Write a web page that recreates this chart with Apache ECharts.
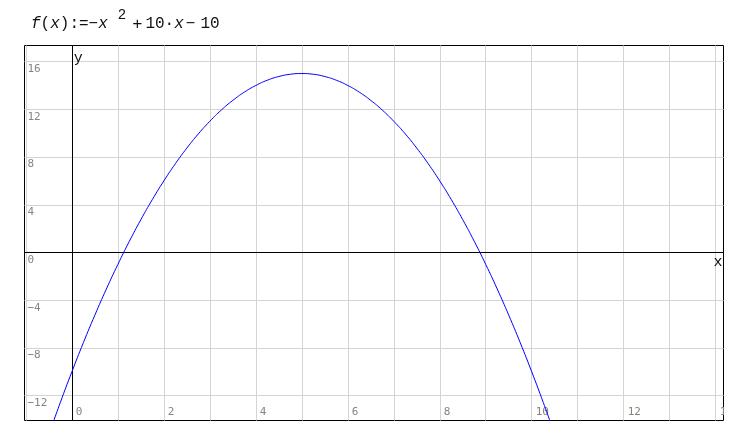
<!DOCTYPE html>
<html>
<head>
<meta charset="utf-8">
<script src="https://cdn.jsdelivr.net/npm/echarts@6/dist/echarts.min.js"></script>
<style>html,body{margin:0;padding:0;background:#fff;}#c{width:737px;height:446px;}</style>
</head>
<body>
<div id="c"></div>
<script>
// Curve samples: f(x) = -x^2 + 10x - 10
const xValues = [-0.5, -0.25, 0, 0.25, 0.5, 0.75, 1, 1.25, 1.5, 1.75, 2, 2.25, 2.5, 2.75, 3, 3.25, 3.5, 3.75, 4, 4.25, 4.5, 4.75, 5,
                 5.25, 5.5, 5.75, 6, 6.25, 6.5, 6.75, 7, 7.25, 7.5, 7.75, 8, 8.25, 8.5, 8.75, 9, 9.25, 9.5, 9.75, 10, 10.25, 10.5];
const yValues = [-15.25, -12.56, -10, -7.56, -5.25, -3.06, -1, 0.94, 2.75, 4.44, 6, 7.44, 8.75, 9.94, 11, 11.94, 12.75, 13.44, 14, 14.44, 14.75, 14.94, 15,
                 14.94, 14.75, 14.44, 14, 13.44, 12.75, 11.94, 11, 9.94, 8.75, 7.44, 6, 4.44, 2.75, 0.94, -1, -3.06, -5.25, -7.56, -10, -12.56, -15.25];
// Axis ranges and ticks
const xRange = [-1.03, 14.17];
const yRange = [-14.08, 17.35];
const xGridTicks = [-1, 0, 1, 2, 3, 4, 5, 6, 7, 8, 9, 10, 11, 12, 13, 14];
const xTickLabels = [0, 2, 4, 6, 8, 10, 12, 14];
const yGridTicks = [-12, -8, -4, 0, 4, 8, 12, 16];
const yTickLabels = [-12, -8, -4, 0, 4, 8, 12, 16];

const points = xValues.map((x, i) => [x, yValues[i]]);
const fmt = v => String(v).replace('-', '\u2212');
const labelFont = 'DejaVu Sans Mono';
const labelColor = '#8a847c';
const tf = 'Liberation Mono';
const tc = '#111';

const chart = echarts.init(document.getElementById('c'), null, {renderer: 'canvas'});
chart.setOption({
  animation: false,
  backgroundColor: '#fff',
  title: {
    left: 26, top: 3,
    text: '{f|f}{n|(}{f|x}{n|):=\u2212}{f|x}{s|2}{op|+}{n|10\u00b7}{f|x}{op2|\u2212}{n2|10}',
    textStyle: {
      fontWeight: 'normal',
      rich: {
        n: {fontFamily: tf, fontSize: 16, fontWeight: 'normal', color: tc},
        n2: {fontFamily: tf, fontSize: 16, fontWeight: 'normal', color: tc, padding: [0, 0, 0, 3]},
        op: {fontFamily: tf, fontSize: 17, fontWeight: 'normal', color: tc, padding: [0, 3, 0, 1]},
        op2: {fontFamily: tf, fontSize: 16, fontWeight: 'normal', color: tc, padding: [0, 2, 0, 2]},
        f: {fontFamily: tf, fontSize: 16, fontWeight: 'normal', fontStyle: 'italic', color: tc},
        s: {fontFamily: tf, fontSize: 14, fontWeight: 'normal', color: tc, padding: [0, 5, 18, 10]}
      }
    }
  },
  graphic: [{
    type: 'rect', left: 724, top: 398, z: 100,
    shape: {width: 13, height: 24}, style: {fill: '#fff'}
  }],
  grid: {left: 24.5, top: 45.5, right: 13.5, bottom: 25.5, show: true, borderColor: '#000', borderWidth: 1, backgroundColor: '#fff', containLabel: false},
  xAxis: [{
    type: 'value', min: xRange[0], max: xRange[1], position: 'bottom',
    axisLine: {show: false, onZero: false},
    axisTick: {show: false, customValues: xGridTicks},
    splitLine: {show: true, lineStyle: {color: '#d4d4d4', width: 1}},
    axisLabel: {inside: true, customValues: xTickLabels, formatter: fmt, align: 'left', verticalAlign: 'middle', margin: 8, padding: [0, 0, 0, 4], color: labelColor, fontFamily: labelFont, fontSize: 11}
  }, {
    type: 'value', min: xRange[0], max: xRange[1], position: 'top',
    axisLine: {show: true, onZero: true, onZeroAxisIndex: 0, lineStyle: {color: '#000', width: 1}},
    axisTick: {show: false}, axisLabel: {show: false}, splitLine: {show: false},
    name: 'x', nameLocation: 'end', nameGap: -10,
    nameTextStyle: {fontFamily: tf, fontSize: 15, color: tc, align: 'left', verticalAlign: 'top', padding: [2, 0, 0, 0]}
  }],
  yAxis: [{
    type: 'value', min: yRange[0], max: yRange[1], position: 'left',
    axisLine: {show: false, onZero: false},
    axisTick: {show: false, customValues: yGridTicks},
    splitLine: {show: true, lineStyle: {color: '#d4d4d4', width: 1}},
    axisLabel: {inside: true, customValues: yTickLabels, formatter: fmt, align: 'left', verticalAlign: 'top', lineHeight: 15, margin: 3, color: labelColor, fontFamily: labelFont, fontSize: 11}
  }, {
    type: 'value', min: yRange[0], max: yRange[1], position: 'right',
    axisLine: {show: true, onZero: true, onZeroAxisIndex: 0, lineStyle: {color: '#000', width: 1}},
    axisTick: {show: false}, axisLabel: {show: false}, splitLine: {show: false},
    name: 'y', nameLocation: 'end', nameGap: -20,
    nameTextStyle: {fontFamily: tf, fontSize: 15, color: tc, align: 'left', verticalAlign: 'bottom', padding: [0, 0, 0, 2]}
  }],
  series: [{
    type: 'line', xAxisIndex: 0, yAxisIndex: 0,
    data: points, smooth: true, showSymbol: false, clip: true,
    lineStyle: {color: '#0000ff', width: 1}
  }]
});
</script>
</body>
</html>
